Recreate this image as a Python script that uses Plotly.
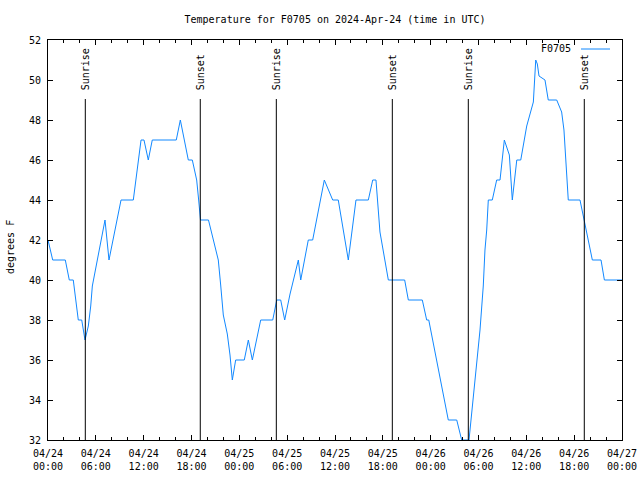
import plotly.graph_objects as go

# ---- data (hours since 2024-04-24 00:00 UTC, temperature in F) ----
hours = [0.0, 0.59, 2.17, 2.67, 3.17, 3.80, 4.23, 4.64, 5.06, 5.36, 5.56, 7.15, 7.65, 9.16,
         10.70, 11.67, 12.04, 12.58, 13.08, 16.09, 16.60, 17.60, 18.10, 18.65, 18.90, 19.13,
         20.13, 21.36, 21.66, 21.99, 22.49, 22.83, 23.12, 23.54, 24.62, 25.13, 25.63, 26.68,
         28.19, 28.69, 29.19, 29.69, 30.36, 31.40, 31.70, 32.65, 33.20, 34.66, 35.71, 36.41,
         37.67, 38.63, 40.18, 40.73, 41.14, 41.64, 42.69, 44.74, 45.20, 46.95, 47.50, 47.76,
         50.21, 51.27, 51.89, 52.81, 54.19, 54.60, 54.81, 55.03, 55.23, 55.73, 56.28, 56.70,
         57.24, 57.87, 58.24, 58.80, 59.30, 60.05, 60.88, 61.18, 61.38, 61.59, 62.34, 62.75,
         63.81, 64.43, 64.72, 65.26, 66.73, 67.23, 68.28, 69.37, 69.79, 72.0]
temps = [42, 41, 41, 40, 40, 38, 38, 37, 37.7, 38.7, 39.7, 43, 41, 44,
         44, 47, 47, 46, 47, 47, 48, 46, 46, 45, 44, 43,
         43, 41, 39.75, 38.25, 37.3, 36.25, 35, 36, 36, 37, 36, 38,
         38, 39, 39, 38, 39.3, 41, 40, 42, 42, 45, 44, 44,
         41, 44, 44, 45, 45, 42.4, 40, 40, 39, 39, 38, 38,
         33, 33, 32, 32, 37.5, 39.7, 41.5, 42.5, 44, 44, 45, 45,
         47, 46.25, 44, 46, 46, 47.7, 48.9, 51, 50.8, 50.2, 50, 49,
         49, 48.4, 47.5, 44, 44, 43, 41, 41, 40, 40]

event_hours = [4.68, 19.10, 28.64, 43.19, 52.72, 67.27]
event_names = ["Sunrise", "Sunset", "Sunrise", "Sunset", "Sunrise", "Sunset"]

tick_hours = [0, 6, 12, 18, 24, 30, 36, 42, 48, 54, 60, 66, 72]
tick_labels = ["04/24<br>00:00", "04/24<br>06:00", "04/24<br>12:00", "04/24<br>18:00",
               "04/25<br>00:00", "04/25<br>06:00", "04/25<br>12:00", "04/25<br>18:00",
               "04/26<br>00:00", "04/26<br>06:00", "04/26<br>12:00", "04/26<br>18:00",
               "04/27<br>00:00"]
y_ticks = [32, 34, 36, 38, 40, 42, 44, 46, 48, 50, 52]

series_name = "F0705"
title_text = "Temperature for F0705 on 2024-Apr-24 (time in UTC)"
LINE_COLOR = "#1188ff"
FONT = "DejaVu Sans Mono"

fig = go.Figure()
fig.add_trace(go.Scatter(x=hours, y=temps, mode="lines", name=series_name,
                         line=dict(color=LINE_COLOR, width=1), showlegend=False))

shapes = []
annotations = []
for h, name in zip(event_hours, event_names):
    shapes.append(dict(type="line", xref="x", yref="y", x0=h, x1=h, y0=32, y1=49.05,
                       line=dict(color="black", width=1)))
    annotations.append(dict(x=h, y=49.4, xref="x", yref="y", text=name, textangle=-90,
                            showarrow=False, xanchor="center", yanchor="bottom",
                            font=dict(family=FONT, size=10, color="black")))

# legend (text left of sample line, gnuplot-style)
annotations.append(dict(x=(573 - 48) / 574, y=(440 - 49) / 400, xref="paper", yref="paper",
                        text=series_name, showarrow=False, xanchor="right", yanchor="middle",
                        font=dict(family=FONT, size=10, color="black")))
shapes.append(dict(type="line", xref="paper", yref="paper",
                   x0=(581 - 48) / 574, x1=(610 - 48) / 574,
                   y0=(440 - 49) / 400, y1=(440 - 49) / 400,
                   line=dict(color=LINE_COLOR, width=1)))
# y axis title
annotations.append(dict(x=(10 - 48) / 574, y=(440 - 247) / 400, xref="paper", yref="paper",
                        text="degrees F", textangle=-90, showarrow=False,
                        xanchor="center", yanchor="middle",
                        font=dict(family=FONT, size=10, color="black")))

fig.update_layout(
    width=640, height=480,
    margin=dict(l=48, r=18, t=40, b=40, pad=0, autoexpand=False),
    paper_bgcolor="white", plot_bgcolor="white",
    font=dict(family=FONT, size=10, color="black"),
    title=dict(text=title_text, x=0.5, xref="paper", xanchor="center",
               y=1 - 19 / 480, yref="container", yanchor="middle",
               font=dict(family=FONT, size=10, color="black")),
    shapes=shapes, annotations=annotations,
    showlegend=False,
)
fig.update_xaxes(range=[0, 72], tickvals=tick_hours, ticktext=tick_labels,
                 ticks="inside", ticklen=5, tickwidth=1, tickcolor="black",
                 minor=dict(ticks="inside", ticklen=3, dtick=2, tickcolor="black", showgrid=False),
                 showline=True, linecolor="black", linewidth=1, mirror="ticks",
                 showgrid=False, zeroline=False, automargin=False, ticklabelstandoff=4)
fig.update_yaxes(range=[32, 52], tickvals=y_ticks,
                 ticks="inside", ticklen=5, tickwidth=1, tickcolor="black",
                 showline=True, linecolor="black", linewidth=1, mirror="ticks",
                 showgrid=False, zeroline=False, automargin=False, ticklabelstandoff=4)

fig.write_html("out.html", config={"displayModeBar": False},
               post_script="document.body.style.margin='0';document.body.style.padding='0';")
